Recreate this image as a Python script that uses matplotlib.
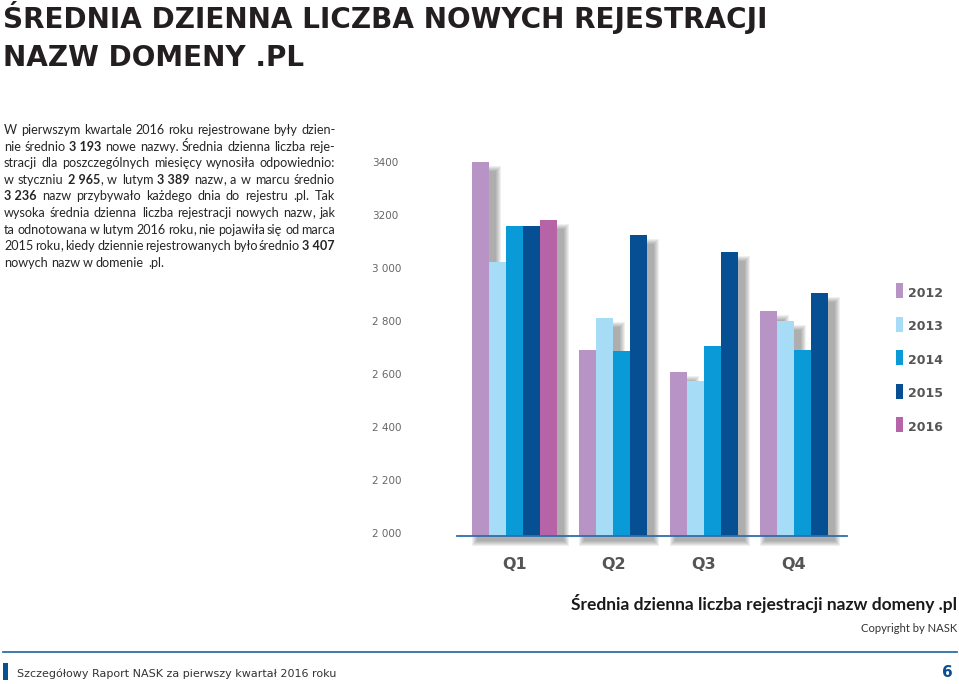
import re
import matplotlib
matplotlib.use("Agg")
import matplotlib.pyplot as plt
from matplotlib.patches import Rectangle, PathPatch
from matplotlib.path import Path
from matplotlib.lines import Line2D
from matplotlib.transforms import blended_transform_factory, offset_copy

W, H = 959, 684

# --- data ---
quarters = ["Q1", "Q2", "Q3", "Q4"]
years = ["2012", "2013", "2014", "2015", "2016"]
y2012 = [3411, 2703, 2619, 2849]
y2013 = [3034, 2824, 2584, 2810]
y2014 = [3169, 2697, 2717, 2703]
y2015 = [3169, 3137, 3072, 2917]
y2016 = [3193, None, None, None]
series = [y2012, y2013, y2014, y2015, y2016]
colors = ["#b894c6", "#a6dcf5", "#0a9ad8", "#064f92", "#b663a8"]

yticks = [2000, 2200, 2400, 2600, 2800, 3000, 3200, 3400]
ytick_labels = ["2 000", "2 200", "2 400", "2 600", "2 800", "3 000", "3200", "3400"]

title_lines = ["ŚREDNIA DZIENNA LICZBA NOWYCH REJESTRACJI", "NAZW DOMENY .PL"]
para_lines = [
    "W pierwszym kwartale 2016 roku rejestrowane były dzien-",
    "nie średnio **3 193** nowe nazwy. Średnia dzienna liczba reje-",
    "stracji dla poszczególnych miesięcy wynosiła odpowiednio:",
    "w styczniu **2 965**, w lutym **3 389** nazw, a w marcu średnio",
    "**3 236** nazw przybywało każdego dnia do rejestru .pl. Tak",
    "wysoka średnia dzienna liczba rejestracji nowych nazw, jak",
    "ta odnotowana w lutym 2016 roku, nie pojawiła się od marca",
    "2015 roku, kiedy dziennie rejestrowanych było średnio **3 407**",
    "nowych nazw w domenie .pl.",
]
subtitle = "Średnia dzienna liczba rejestracji nazw domeny .pl"
copyright_txt = "Copyright by NASK"
footer_txt = "Szczegółowy Raport NASK za pierwszy kwartał 2016 roku"
page_no = "6"

HEAD = "DejaVu Sans"
BODY = "Lato"

fig = plt.figure(figsize=(W / 100, H / 100), dpi=100)
fig.patch.set_facecolor("white")
renderer = fig.canvas.get_renderer()


def text_width(s, **kw):
    t = fig.text(0, 0, s, **kw)
    w = t.get_window_extent(renderer).width
    t.remove()
    return w


def fit_size(s, target, **kw):
    return 10 * target / text_width(s, fontsize=10, **kw)


def put(x, y, s, **kw):
    # x, y in pixels from the top-left corner
    return fig.text(x / W, 1 - y / H, s, **kw)


# title
tsize = fit_size(title_lines[0], 766, family=HEAD, weight="bold")
put(3, 27.5, title_lines[0], fontsize=tsize, family=HEAD, weight="bold", color="#231f20", va="baseline")
put(3, 66.5, title_lines[1], fontsize=tsize, family=HEAD, weight="bold", color="#231f20", va="baseline")

# justified paragraph
bsize = fit_size(para_lines[2], 327, family=BODY)
space_w = text_width("a a", fontsize=bsize, family=BODY) - text_width("aa", fontsize=bsize, family=BODY)


def draw_line(line, y, left, right, justify=True):
    words = re.findall(r"\*\*[^*]+\*\*\S*|\S+", line)
    pieces = []
    for w in words:
        # commas go in their own text so the word keeps the line's baseline
        parts = [(p.strip("*"), p.startswith("**")) for p in re.split(r"(\*\*[^*]+\*\*|,)", w) if p]
        ws = [text_width(s, fontsize=bsize, family=BODY, weight="bold" if b else "normal") for s, b in parts]
        pieces.append((parts, ws))
    total = sum(sum(ws) for _, ws in pieces)
    gap = (right - left - total) / (len(pieces) - 1) if justify else space_w
    x = left
    for parts, ws in pieces:
        for (s, b), w in zip(parts, ws):
            put(round(x), y, s, fontsize=bsize, family=BODY, weight="bold" if b else "normal",
                color="#262626", va="baseline")
            x += w
        x += gap


for i, line in enumerate(para_lines):
    draw_line(line, round(134 + i * 16.6), 4, 335, justify=(i < len(para_lines) - 1))

# bar chart
ax = fig.add_axes([457 / W, 1 - 536 / H, 390 / W, (536 - 151.75) / H])
ax.set_xlim(-0.88, 22.02)
ax.set_ylim(2000, 3450)
ax.axis("off")
pxx = 22.9 / 390
pxy = 1450 / (536 - 151.75)

centers = []
bars = []
start = 0.0
for qi in range(len(quarters)):
    k = 0
    for si, vals in enumerate(series):
        v = vals[qi]
        if v is None:
            continue
        ax.bar(start + k, v - 2000, bottom=2000, width=1, align="edge", color=colors[si], zorder=3)
        bars.append((start + k, v))
        k += 1
    centers.append(start + k / 2)
    start += k + 1.3

# soft drop shadow: each layer is one compound path, so overlaps are filled once
for e in range(1, 7):
    verts, codes = [], []
    for x0, v in bars:
        xa = x0 + (6 - e) * pxx
        xb = x0 + 1 + (6 + e) * pxx
        ya = 2000 - (4 + e) * pxy
        yb = v - (10 - e) * pxy
        verts += [(xa, ya), (xb, ya), (xb, yb), (xa, yb), (xa, ya)]
        codes += [Path.MOVETO, Path.LINETO, Path.LINETO, Path.LINETO, Path.CLOSEPOLY]
    ax.add_patch(PathPatch(Path(verts, codes), facecolor="#333333", edgecolor="none",
                           alpha=0.08, zorder=2, clip_on=False))

ax.axhline(2000, color="#2f6fa8", lw=1.3, zorder=5, clip_on=False)

ylab_tr = offset_copy(blended_transform_factory(fig.transFigure, ax.transData), fig=fig, y=-1, units="dots")
for v, lab in zip(yticks, ytick_labels):
    fig.text(372 / W, v, lab, transform=ylab_tr, fontsize=7.5, family=HEAD, color="#666666",
             ha="left", va="baseline")

q_tr = blended_transform_factory(ax.transData, fig.transFigure)
for c, q in zip(centers, quarters):
    fig.text(c, 1 - 569 / H, q, transform=q_tr, fontsize=11.5, family=HEAD, weight="bold",
             color="#555555", ha="center", va="baseline")

# legend
for k, (yr, col) in enumerate(zip(years, colors)):
    top = 283.3 + 33.5 * k
    fig.add_artist(Rectangle((896 / W, 1 - (top + 15) / H), 7 / W, 15 / H,
                             transform=fig.transFigure, facecolor=col, edgecolor="none"))
    put(908, top + 13.4, yr, fontsize=9, family=HEAD, weight="bold", color="#555555", va="baseline")

# captions
ssize = fit_size(subtitle, 385, family=BODY, weight="bold")
put(957, 610, subtitle, fontsize=ssize, family=BODY, weight="bold", color="#1a1a1a", ha="right", va="baseline")
csize = fit_size(copyright_txt, 97, family=BODY)
put(957, 632, copyright_txt, fontsize=csize, family=BODY, color="#333333", ha="right", va="baseline")

# footer
fig.add_artist(Line2D([3 / W, 957 / W], [1 - 652 / H] * 2, color="#2f6fa8", lw=1.3))
fig.add_artist(Rectangle((3 / W, 1 - 680 / H), 4.5 / W, 17 / H, transform=fig.transFigure,
                         facecolor="#0a4f92", edgecolor="none"))
fsize = fit_size(footer_txt, 321, family=HEAD)
put(17, 677, footer_txt, fontsize=fsize, family=HEAD, color="#333333", va="baseline")
put(953, 677, page_no, fontsize=11, family=HEAD, weight="bold", color="#0a4f92", ha="right", va="baseline")

fig.savefig("out.png", dpi=100)
